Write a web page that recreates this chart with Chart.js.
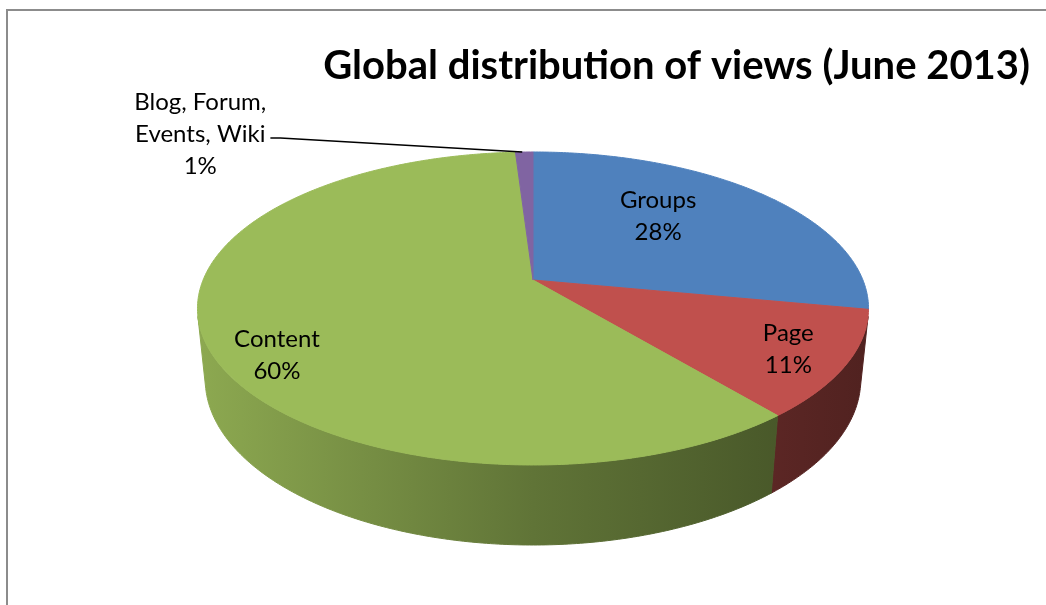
<!DOCTYPE html>
<html lang="en">
<head>
<meta charset="utf-8" />
<title>Global distribution of views (June 2013)</title>
<script src="https://cdn.jsdelivr.net/npm/chart.js"></script>
<style>
    html, body { margin: 0; padding: 0; background: #fff; overflow: hidden; }
    #frame {
        position: absolute; left: 6px; top: 9px; width: 1100px; height: 700px;
        border-left: 2px solid #8c8c8c; border-top: 2px solid #8c8c8c;
    }
    #wrap { position: absolute; left: 0; top: 0; width: 1046px; height: 605px; }
</style>
</head>
<body>
<div id="frame"></div>
<div id="wrap"><canvas id="viewsChart"></canvas></div>

<script>
    const categories = [['Groups'], ['Page'], ['Content'], ['Blog, Forum,', 'Events, Wiki']];
    const shares = [28, 11, 60, 1];
    const sliceColors = ['#4f81bd', '#c0504d', '#9bbb59', '#8064a2'];

    // where each label sits: radius (1 = rim) and angle nudge in degrees; null = outside with leader
    const labelSpots = [{ r: 0.615, nudge: -8.5 }, { r: 0.83, nudge: 0 }, { r: 0.845, nudge: -11 }, null];
    const outsideOffset = { dx: -324, dy: -18 };

    // camera looking down on the pie, radius = 1
    const cam = { tilt: 27.3 * Math.PI / 180, dist: 4.883, focal: 1611, depth: 0.244 };
    const labelFont = '24px Lato';
    const lineGap = 32;

    function project(cx, cy, ang, r, h) {
        var s = Math.sin(cam.tilt), c = Math.cos(cam.tilt);
        var X = r * Math.cos(ang), Z = r * Math.sin(ang);
        var yc = Z * s + h * c;
        var zc = cam.dist - Z * c + h * s;
        return { x: cx + cam.focal * X / zc, y: cy + cam.focal * yc / zc };
    }

    function shade(hex, k) {
        var n = parseInt(hex.slice(1), 16);
        var r = Math.round(((n >> 16) & 255) * k), g = Math.round(((n >> 8) & 255) * k), b = Math.round((n & 255) * k);
        return 'rgb(' + r + ',' + g + ',' + b + ')';
    }

    function rimPath(ctx, cx, cy, a1, a2, h, first) {
        var steps = Math.max(4, Math.ceil(Math.abs(a2 - a1) / 0.01));
        for (var k = 0; k <= steps; k++) {
            var p = project(cx, cy, a1 + (a2 - a1) * k / steps, 1, h);
            if (k == 0 && first) ctx.moveTo(p.x, p.y); else ctx.lineTo(p.x, p.y);
        }
    }

    const pie3d = {
        id: 'pie3d',
        beforeDatasetsDraw(chart) {
            var ctx = chart.ctx;
            var arcs = chart.getDatasetMeta(0).data;
            var cx = arcs[0].x, cy = arcs[0].y;
            var lim = Math.asin(1 / (cam.dist * Math.cos(cam.tilt)));
            var xl = project(cx, cy, Math.PI, 1, 0).x, xr = project(cx, cy, 0, 1, 0).x;

            ctx.save();
            // outer wall, front half only
            arcs.forEach(function (arc, i) {
                var a1 = Math.max(arc.startAngle, lim), a2 = Math.min(arc.endAngle, Math.PI - lim);
                if (a2 <= a1) return;
                var base = arc.options.backgroundColor;
                var grad = ctx.createLinearGradient(xl, 0, xr, 0);
                grad.addColorStop(0, shade(base, 0.9));
                grad.addColorStop(0.5, shade(base, 0.62));
                grad.addColorStop(1, shade(base, 0.42));
                ctx.beginPath();
                rimPath(ctx, cx, cy, a1, a2, 0, true);
                rimPath(ctx, cx, cy, a2, a1, cam.depth, false);
                ctx.closePath();
                ctx.fillStyle = grad;
                ctx.strokeStyle = grad;
                ctx.lineWidth = 1;
                ctx.fill();
                ctx.stroke();
            });
            // top face
            arcs.forEach(function (arc) {
                ctx.beginPath();
                ctx.moveTo(cx, cy);
                rimPath(ctx, cx, cy, arc.startAngle, arc.endAngle, 0, false);
                ctx.closePath();
                ctx.fillStyle = arc.options.backgroundColor;
                ctx.strokeStyle = arc.options.backgroundColor;
                ctx.lineWidth = 1;
                ctx.fill();
                ctx.stroke();
            });
            ctx.restore();
            return false;
        },
        afterDraw(chart) {
            var ctx = chart.ctx;
            var arcs = chart.getDatasetMeta(0).data;
            var cx = arcs[0].x, cy = arcs[0].y;
            var total = shares.reduce(function (a, b) { return a + b; }, 0);
            ctx.save();
            ctx.font = labelFont;
            ctx.fillStyle = '#000';
            ctx.textAlign = 'center';
            ctx.textBaseline = 'middle';
            arcs.forEach(function (arc, i) {
                var mid = (arc.startAngle + arc.endAngle) / 2;
                var lines = categories[i].concat([Math.round(shares[i] / total * 100) + '%']);
                var spot = labelSpots[i];
                var at;
                if (spot) {
                    at = project(cx, cy, mid + spot.nudge * Math.PI / 180, spot.r, 0);
                    lines.forEach(function (t, k) {
                        ctx.fillText(t, at.x, at.y + (k - (lines.length - 1) / 2) * lineGap);
                    });
                } else {
                    var rim = project(cx, cy, mid, 1, 0);
                    at = { x: rim.x + outsideOffset.dx, y: rim.y + outsideOffset.dy };
                    lines.forEach(function (t, k) {
                        ctx.fillText(t, at.x, at.y + (k - 1) * lineGap);
                    });
                    var w = ctx.measureText(lines[1]).width;
                    var sx = at.x + w / 2 + 5, sy = at.y + 4;
                    ctx.beginPath();
                    ctx.moveTo(sx, sy);
                    ctx.lineTo(sx + 10, sy);
                    ctx.lineTo(rim.x - 2, rim.y);
                    ctx.strokeStyle = '#000';
                    ctx.lineWidth = 1.6;
                    ctx.stroke();
                }
            });
            ctx.restore();
        }
    };

    var chart = new Chart(document.getElementById('viewsChart'), {
        type: 'pie',
        data: {
            labels: categories,
            datasets: [{
                data: shares,
                backgroundColor: sliceColors,
                borderWidth: 0
            }]
        },
        options: {
            responsive: true,
            maintainAspectRatio: false,
            animation: false,
            events: [],
            layout: { padding: { left: 36, right: 16, top: 0, bottom: 145 } },
            plugins: {
                legend: { display: false },
                tooltip: { enabled: false },
                title: {
                    display: true,
                    text: 'Global distribution of views (June 2013)',
                    align: 'end',
                    color: '#000',
                    font: { family: 'Lato', size: 40, weight: 'bold', lineHeight: 1.2 },
                    padding: { top: 42, bottom: 10 }
                }
            }
        },
        plugins: [pie3d]
    });
</script>
</body>
</html>
